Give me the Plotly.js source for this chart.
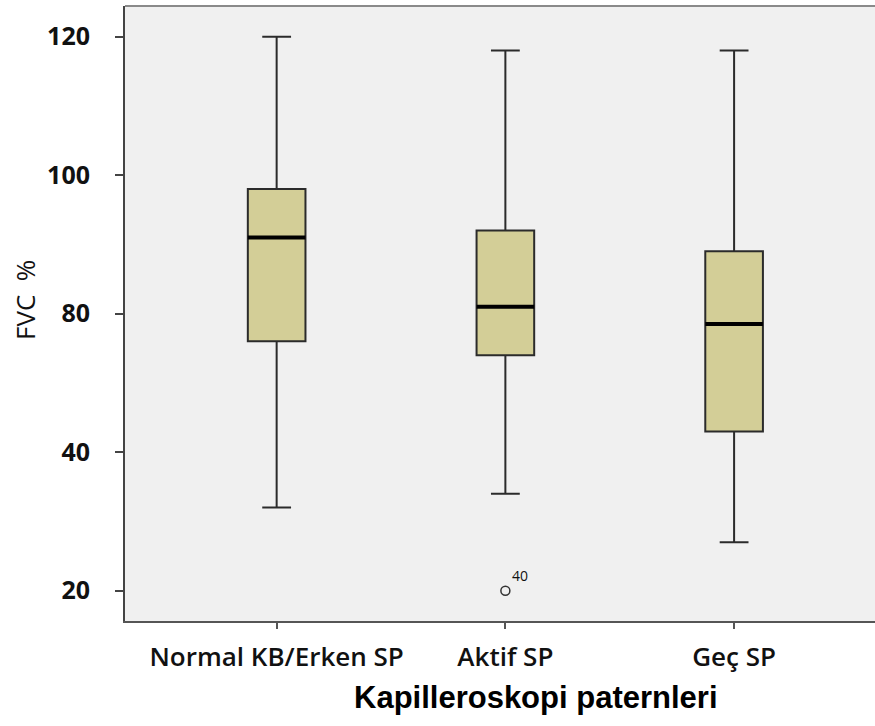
<!DOCTYPE html>
<html>
<head>
<meta charset="utf-8">
<script src="https://cdn.plot.ly/plotly-3.0.1.min.js"></script>
<style>html,body{margin:0;padding:0;background:#fff;}#chart{width:875px;height:726px;}</style>
</head>
<body>
<div id="chart"></div>
<script>
// Data (internal linear scale; tick labels as printed)
const categories = ['Normal KB/Erken SP', 'Aktif SP', 'Geç SP'];
const lowerWhisker = [52, 54, 47];
const q1Values = [76, 74, 63];
const medianValues = [91, 81, 78.5];
const q3Values = [98, 92, 89];
const upperWhisker = [120, 118, 118];
const outlierCategoryIndex = [1];
const outlierValues = [40];
const outlierLabels = ['40'];
const yTickVals = [120, 100, 80, 60, 40];
const yTickText = ['120', '100', '80', '40', '20'];

const catIdx = categories.map((c, i) => i);
const boxWidth = 0.252;

const boxTrace = {
  type: 'box',
  x: catIdx,
  q1: q1Values,
  median: medianValues,
  q3: q3Values,
  lowerfence: lowerWhisker,
  upperfence: upperWhisker,
  width: boxWidth,
  whiskerwidth: 0.5,
  fillcolor: 'rgb(211,206,151)',
  line: {color: '#2b2b2b', width: 2},
  boxpoints: false,
  hoverinfo: 'skip',
  showlegend: false
};

const medX = [], medY = [];
catIdx.forEach((i) => {
  medX.push(i - boxWidth / 2, i + boxWidth / 2, null);
  medY.push(medianValues[i], medianValues[i], null);
});
const medianTrace = {
  type: 'scatter', mode: 'lines', x: medX, y: medY,
  line: {color: '#000', width: 4}, hoverinfo: 'skip', showlegend: false
};

const outlierTrace = {
  type: 'scatter', mode: 'markers+text',
  x: outlierCategoryIndex, y: outlierValues, text: outlierLabels,
  textposition: 'top right',
  textfont: {family: 'Open Sans', size: 14, color: '#111'},
  marker: {symbol: 'circle-open', size: 9, color: '#333', line: {width: 1.5}},
  hoverinfo: 'skip', showlegend: false, cliponaxis: false
};

const layout = {
  width: 875, height: 726,
  margin: {l: 125, r: 0, t: 6, b: 105},
  paper_bgcolor: '#ffffff',
  plot_bgcolor: '#f0f0f0',
  showlegend: false,
  xaxis: {
    type: 'linear',
    range: [-0.663, 2.616],
    tickvals: catIdx,
    ticktext: categories,
    showgrid: false, zeroline: false,
    showline: true, linecolor: '#555', linewidth: 2,
    ticks: 'outside', ticklen: 6, tickwidth: 2, tickcolor: '#555',
    ticklabelstandoff: 6,
    tickfont: {family: 'Open Sans', size: 26, color: '#111', weight: 600}
  },
  yaxis: {
    range: [35.62, 124.43],
    tickvals: yTickVals,
    ticktext: yTickText,
    showgrid: false, zeroline: false,
    showline: true, linecolor: '#444', linewidth: 2,
    ticks: 'outside', ticklen: 8, tickwidth: 2, tickcolor: '#444',
    ticklabelstandoff: 20,
    tickfont: {family: 'Open Sans', size: 25, color: '#111', weight: 'bold'}
  },
  shapes: [
    {type: 'line', xref: 'paper', yref: 'paper', x0: 0, x1: 1, y0: 1, y1: 1,
     line: {color: '#8a8a8a', width: 2}}
  ],
  annotations: [
    {text: 'FVC\u00a0\u00a0%', xref: 'paper', yref: 'paper', x: -0.1333, y: 0.522,
     xanchor: 'center', yanchor: 'middle', textangle: -90, showarrow: false,
     font: {family: 'Open Sans', size: 26, color: '#111'}},
    {text: 'Kapilleroskopi paternleri', xref: 'paper', yref: 'paper', x: 0.548, y: -0.1236,
     xanchor: 'center', yanchor: 'middle', showarrow: false,
     font: {family: 'Liberation Sans', size: 31, color: '#000', weight: 'bold'}}
  ]
};

Plotly.newPlot('chart', [boxTrace, medianTrace, outlierTrace], layout, {displayModeBar: false, staticPlot: true});
</script>
</body>
</html>
